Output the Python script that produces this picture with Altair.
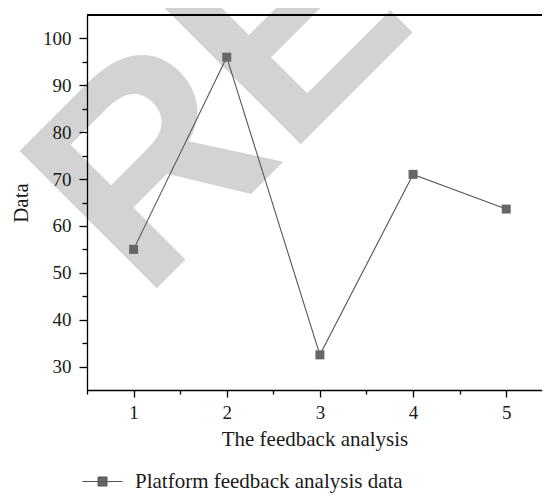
import altair as alt
import pandas as pd

# ---- data ----
x_vals = [1, 2, 3, 4, 5]
y_vals = [55.0, 96.0, 32.5, 71.0, 63.6]
series_name = "Platform feedback analysis data"
x_title = "The feedback analysis"
y_title = "Data"
x_major = [1, 2, 3, 4, 5]
x_minor = [0.5, 1.5, 2.5, 3.5, 4.5]
y_major = [30, 40, 50, 60, 70, 80, 90, 100]
y_minor = [35, 45, 55, 65, 75, 85, 95]
watermark = ["RETRACTED"]

df = pd.DataFrame({"x": x_vals, "y": y_vals, "series": [series_name] * len(x_vals)})
wm = pd.DataFrame({"t": watermark})

W, H = 455, 375
serif = "Liberation Serif"
ink = "#1a1a1a"

xscale = alt.Scale(domain=[0.5, 5.384], nice=False, zero=False)
yscale = alt.Scale(domain=[25, 105], nice=False, zero=False)

common = dict(grid=False, domainColor="black", domainWidth=1.3,
              tickColor="black", tickWidth=1.3, zindex=1)

x_axis = alt.Axis(
    orient="bottom", values=x_major, format="d", tickSize=7, labelPadding=6,
    labelOverlap=False, labelFont=serif, labelFontSize=19, labelColor=ink,
    title=x_title, titleFont=serif, titleFontSize=21, titleFontWeight="normal",
    titleColor=ink, titlePadding=6, **common,
)
y_axis = alt.Axis(
    orient="left", values=y_major, format="d", tickSize=8, labelPadding=8,
    labelOverlap=False, labelFont=serif, labelFontSize=19, labelColor=ink,
    title=y_title, titleFont=serif, titleFontSize=21, titleFontWeight="normal",
    titleColor=ink, titlePadding=11, **common,
)
x_axis_minor = alt.Axis(orient="bottom", values=x_minor, tickSize=4, labels=False,
                        title=None, domain=False, grid=False, tickColor="black",
                        tickWidth=1.3, zindex=1)
y_axis_minor = alt.Axis(orient="left", values=y_minor, tickSize=5, labels=False,
                        title=None, domain=False, grid=False, tickColor="black",
                        tickWidth=1.3, zindex=1)

base = alt.Chart(df)

mark_wm = alt.Chart(wm).mark_text(
    font="Liberation Sans", fontWeight="bold", fontSize=282, angle=315,
    align="left", baseline="alphabetic", color="#d3d3d3",
).encode(text="t:N", x=alt.value(56.4), y=alt.value(286.6))

top_spine = base.mark_rule(color="black", strokeWidth=1.3).encode(
    x=alt.value(0), x2=alt.value(W), y=alt.value(0)
)

line = base.mark_line(color="#555555", strokeWidth=1.1).encode(
    x=alt.X("x:Q", scale=xscale, axis=x_axis),
    y=alt.Y("y:Q", scale=yscale, axis=y_axis),
)

points = base.mark_point(shape="square", filled=True, size=81, opacity=1).encode(
    x=alt.X("x:Q", scale=xscale, axis=x_axis_minor),
    y=alt.Y("y:Q", scale=yscale, axis=y_axis_minor),
    color=alt.Color(
        "series:N",
        scale=alt.Scale(range=["#666666"]),
        legend=alt.Legend(
            title=None, orient="none", legendX=-5, legendY=446, padding=0,
            symbolType="M-1,0H1M-0.225,-0.225H0.225V0.225H-0.225Z",
            symbolSize=1600, symbolStrokeColor="#555555", symbolStrokeWidth=1,
            symbolFillColor="#666666", labelLimit=0,
            labelFont=serif, labelFontSize=21, labelColor=ink, labelOffset=12,
        ),
    ),
)

chart = alt.layer(mark_wm, top_spine, line, points).resolve_axis(
    x="independent", y="independent"
).properties(
    width=W, height=H,
    autosize=alt.AutoSizeParams(type="none"),
    padding={"left": 79, "top": 7, "right": 0, "bottom": 105},
).configure_view(stroke=None).configure(background="white")

chart.save("out.html", embed_options={"renderer": "svg", "actions": False})
